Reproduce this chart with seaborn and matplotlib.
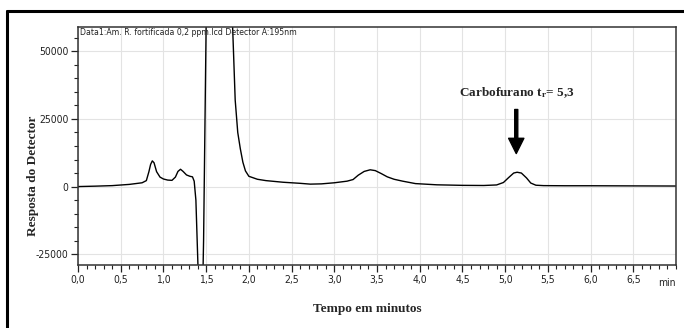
import matplotlib
matplotlib.use("Agg")
import matplotlib.pyplot as plt
from matplotlib.lines import Line2D
from matplotlib.ticker import FixedLocator, FixedFormatter, MultipleLocator
import numpy as np
import pandas as pd
import seaborn as sns

# ---- data ----
time_min = [0.00, 0.20, 0.40, 0.60, 0.75, 0.80, 0.83, 0.85, 0.87, 0.89, 0.92, 0.96,
            1.00, 1.05, 1.10, 1.14, 1.17, 1.20, 1.23, 1.27, 1.31, 1.34, 1.36, 1.38,
            1.40, 1.42, 1.455, 1.47, 1.50, 1.52, 1.60, 1.70, 1.78, 1.81, 1.84, 1.87,
            1.90, 1.93, 1.96, 2.00, 2.10, 2.20, 2.40, 2.60, 2.72, 2.85, 3.00, 3.15,
            3.22, 3.28, 3.35, 3.42, 3.48, 3.55, 3.62, 3.70, 3.80, 3.95, 4.20, 4.50,
            4.75, 4.90, 4.98, 5.04, 5.10, 5.14, 5.19, 5.25, 5.30, 5.36, 5.45, 5.70,
            6.00, 6.50, 7.00]
response = [0, 150, 350, 800, 1400, 2200, 5500, 8200, 9500, 8800, 5500, 3500,
            2800, 2400, 2300, 3500, 5600, 6400, 5600, 4300, 3800, 3600, 2000, -5000,
            -25000, -45000, -45000, -20000, 60000, 100000, 150000, 150000, 100000, 59000, 32000, 20000,
            14000, 9000, 5800, 3800, 2700, 2200, 1600, 1200, 900, 1000, 1400, 2000,
            2600, 4200, 5600, 6200, 5900, 4800, 3600, 2700, 2000, 1100, 650, 450,
            400, 600, 1500, 3300, 5000, 5300, 5000, 3200, 1300, 500, 350, 300,
            300, 250, 200]

x_ticks = [0.0, 0.5, 1.0, 1.5, 2.0, 2.5, 3.0, 3.5, 4.0, 4.5, 5.0, 5.5, 6.0, 6.5]
x_tick_labels = ["0,0", "0,5", "1,0", "1,5", "2,0", "2,5", "3,0", "3,5", "4,0",
                 "4,5", "5,0", "5,5", "6,0", "6,5"]
y_ticks = [-25000, 0, 25000, 50000]
y_tick_labels = ["-25000", "0", "25000", "50000"]

peak_time = 5.13
peak_label = r"Carbofurano t$_\mathrm{r}$= 5,3"
header = "Data1:Am. R. fortificada 0,2 ppm.lcd Detector A:195nm"

df = pd.DataFrame({"t": time_min, "r": response})

sns.set_theme(style="white")
serif = ["Liberation Serif", "DejaVu Serif"]
plt.rcParams["font.family"] = ["DejaVu Sans"]
plt.rcParams["font.stretch"] = "condensed"
plt.rcParams["mathtext.fontset"] = "custom"
plt.rcParams["mathtext.rm"] = "Liberation Serif:bold"
plt.rcParams["mathtext.it"] = "Liberation Serif:bold:italic"
plt.rcParams["mathtext.bf"] = "Liberation Serif:bold"

fig = plt.figure(figsize=(6.84, 3.28), dpi=100)
ax = fig.add_axes([78 / 684, (328 - 265) / 328, (676 - 78) / 684, (265 - 27) / 328])

sns.lineplot(data=df, x="t", y="r", ax=ax, color="black", linewidth=1.0, sort=False)

ax.set_xlim(0, 7.0)
ax.set_ylim(-29000, 59000)

ax.xaxis.set_major_locator(FixedLocator(x_ticks))
ax.xaxis.set_major_formatter(FixedFormatter(x_tick_labels))
ax.xaxis.set_minor_locator(MultipleLocator(0.1))
ax.yaxis.set_major_locator(FixedLocator(y_ticks))
ax.yaxis.set_major_formatter(FixedFormatter(y_tick_labels))
ax.yaxis.set_minor_locator(MultipleLocator(5000))

ax.tick_params(axis="both", which="major", direction="out", length=5, width=0.9,
               color="#222222", labelsize=7.5, labelcolor="#222222", pad=2,
               bottom=True, left=True)
ax.tick_params(axis="both", which="minor", direction="out", length=3, width=0.8,
               color="#222222", bottom=True, left=True)
for lab in ax.get_xticklabels() + ax.get_yticklabels():
    lab.set_fontstretch("condensed")

ax.grid(True, which="major", color="#e3e3e3", linewidth=0.8)
for s in ax.spines.values():
    s.set_visible(True)
    s.set_color("#333333")
    s.set_linewidth(1.1)

ax.set_xlabel("")
ax.set_ylabel("")
fig.text(367 / 684, 1 - 309 / 328, "Tempo em minutos", family=serif, weight="bold",
         fontsize=9.5, ha="center", va="center", fontstretch="normal")
fig.text(33 / 684, 1 - 176 / 328, "Resposta do Detector", family=serif, weight="bold",
         fontsize=9.5, ha="center", va="center", rotation=90, fontstretch="normal")

ax.text(1.0, -0.055, "min", transform=ax.transAxes, ha="right", va="top",
        fontsize=7.5, color="#222222", fontstretch="condensed")
ax.text(0.003, 0.997, header, transform=ax.transAxes, ha="left", va="top",
        fontsize=6.2, color="#222222", fontstretch="condensed")

ax.annotate("", xy=(peak_time, 12200), xytext=(peak_time, 28500),
            arrowprops=dict(facecolor="black", edgecolor="black", width=2.2,
                            headwidth=11, headlength=11, shrink=0))
ax.text(peak_time + 0.01, 34800, peak_label, family=serif, weight="bold",
        fontsize=9.5, ha="center", va="center", fontstretch="normal")

# outer frame (top and left edges)
fig.add_artist(Line2D([7 / 684, 1.0], [1 - 11 / 328, 1 - 11 / 328],
                      transform=fig.transFigure, color="black", linewidth=2.2))
fig.add_artist(Line2D([7 / 684, 7 / 684], [0.0, 1 - 11 / 328],
                      transform=fig.transFigure, color="black", linewidth=2.2))

fig.savefig("out.png", dpi=100)
